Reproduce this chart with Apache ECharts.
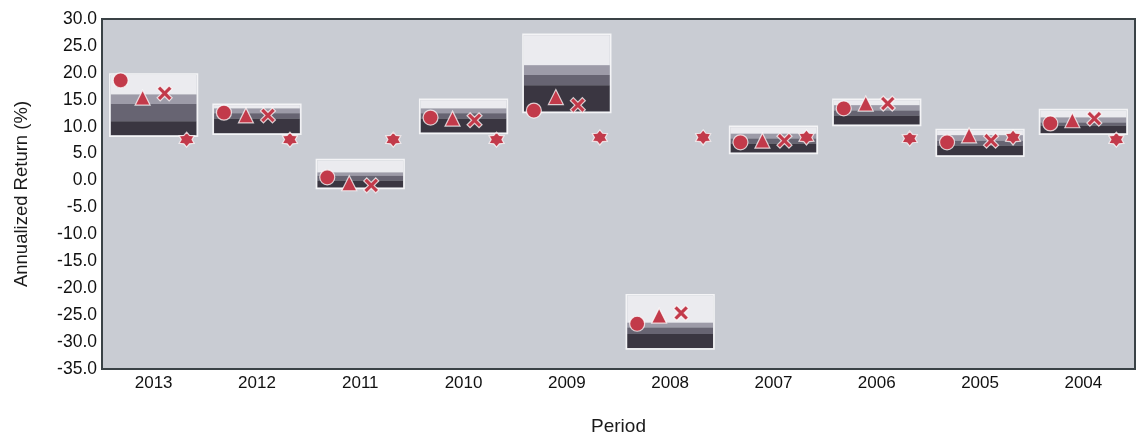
<!DOCTYPE html>
<html>
<head>
<meta charset="utf-8">
<script src="https://cdn.jsdelivr.net/npm/echarts@6/dist/echarts.min.js"></script>
<style>
  html, body { margin: 0; padding: 0; background: #ffffff; }
  #chart { width: 1140px; height: 436px; }
</style>
</head>
<body>
<div id="chart"></div>
<script>
// Periods, newest first
const periods = ['2013', '2012', '2011', '2010', '2009', '2008', '2007', '2006', '2005', '2004'];

// Peer-group percentile breakpoints (annualized return, %)
const pct5  = [19.6, 14.0,  3.7, 14.9, 27.0, -21.4, 9.9, 14.9, 9.3, 13.0];
const pct25 = [16.0, 13.4,  1.5, 13.4, 21.4, -26.4, 8.7, 14.0, 8.4, 11.7];
const pct50 = [14.2, 12.5,  0.9, 12.5, 19.6, -27.3, 7.8, 13.0, 7.4, 10.8];
const pct75 = [11.0, 11.5,  0.0, 11.5, 17.7, -28.5, 6.9, 12.1, 6.5, 10.2];
const pct95 = [ 8.4,  8.8, -1.3,  8.9, 12.8, -31.1, 5.2, 10.4, 4.7,  8.8];

// Marker series
const circleVals   = [18.6, 12.6,  0.6, 11.7, 13.0, -26.6, 7.1, 13.4, 7.1, 10.6];
const triangleVals = [15.4, 12.1, -0.5, 11.5, 15.5, -25.1, 7.4, 14.3, 8.4, 11.2];
const crossVals    = [16.2, 12.1, -0.9, 11.2, 14.0, -24.6, 7.4, 14.3, 7.4, 11.5];
const starVals     = [ 7.6,  7.6,  7.6,  7.6,  8.0,   8.0, 8.0,  7.8, 8.0,  7.6];

// Y tick range
const yMin = -35, yMax = 30, yStep = 5;

const bandColors = ['#ebebef', '#9d9ba8', '#676472', '#3a3641'];
const markerRed = '#c23a4a';
const textFont = 'Liberation Sans';

const crossPath = 'path://M20 0 L50 30 L80 0 L100 20 L70 50 L100 80 L80 100 L50 70 L20 100 L0 80 L30 50 L0 20 Z';
const starPath = 'path://M50 0 L66 22 L93.3 25 L81 50 L93.3 75 L66 78 L50 100 L34 78 L6.7 75 L19 50 L6.7 25 L34 22 Z';

const boxData = periods.map((p, i) => [i, pct5[i], pct25[i], pct50[i], pct75[i], pct95[i]]);

function renderBox(params, api) {
  const i = api.value(0);
  const vals = [api.value(1), api.value(2), api.value(3), api.value(4), api.value(5)];
  const w = api.size([1, 0])[0] * 0.83;
  const cx = api.coord([i, 0])[0];
  const x = cx - w / 2;
  const children = [];
  for (let k = 0; k < 4; k++) {
    const y1 = api.coord([i, vals[k]])[1];
    const y2 = api.coord([i, vals[k + 1]])[1];
    children.push({
      type: 'rect',
      shape: { x: x, y: y1, width: w, height: y2 - y1 },
      style: { fill: bandColors[k] }
    });
  }
  const yTop = api.coord([i, vals[0]])[1];
  const yBot = api.coord([i, vals[4]])[1];
  children.push({
    type: 'rect',
    shape: { x: x - 1, y: yTop - 1, width: w + 2, height: yBot - yTop + 2 },
    style: { fill: 'none', stroke: '#f4f4f6', lineWidth: 1.5 }
  });
  return { type: 'group', children: children };
}

function markerSeries(name, vals, symbol, size, dx) {
  return {
    name: name,
    type: 'scatter',
    data: vals,
    symbol: symbol,
    symbolSize: size,
    symbolOffset: [dx, 0],
    itemStyle: { color: markerRed, borderColor: 'rgba(255,255,255,0.75)', borderWidth: 1.2, opacity: 1 },
    z: 5
  };
}

const chart = echarts.init(document.getElementById('chart'));
chart.setOption({
  animation: false,
  backgroundColor: '#ffffff',
  grid: {
    left: 102, right: 5, top: 19, bottom: 67,
    outerBoundsMode: 'none',
    containLabel: false,
    show: true,
    backgroundColor: '#c9ccd3',
    borderColor: '#3a4246',
    borderWidth: 2
  },
  xAxis: {
    type: 'category',
    data: periods,
    name: 'Period',
    nameLocation: 'middle',
    nameGap: 48,
    nameTextStyle: { fontFamily: textFont, fontSize: 19, color: '#1a1a1a' },
    axisLine: { show: true, onZero: false, lineStyle: { color: '#3a4246', width: 2 } },
    axisTick: { show: false },
    axisLabel: { fontFamily: textFont, fontSize: 17, color: '#111111', margin: 6 },
    splitLine: { show: false }
  },
  yAxis: {
    type: 'value',
    min: yMin, max: yMax, interval: yStep,
    name: 'Annualized Return (%)',
    nameLocation: 'middle',
    nameGap: 71,
    nameTextStyle: { fontFamily: textFont, fontSize: 18.5, color: '#1a1a1a' },
    axisLine: { show: true, lineStyle: { color: '#3a4246', width: 2 } },
    axisTick: { show: false },
    axisLabel: {
      fontFamily: textFont, fontSize: 17.5, color: '#111111', margin: 5,
      formatter: v => v.toFixed(1)
    },
    splitLine: { show: false }
  },
  series: [
    {
      name: 'Peer range',
      type: 'custom',
      renderItem: renderBox,
      data: boxData,
      encode: { x: 0, y: [1, 2, 3, 4, 5] },
      z: 2
    },
    markerSeries('Circle', circleVals, 'circle', 15, -33),
    markerSeries('Triangle', triangleVals, 'triangle', 15, -11),
    markerSeries('Cross', crossVals, crossPath, 15, 11),
    markerSeries('Star', starVals, starPath, 15, 33)
  ]
});
</script>
</body>
</html>
